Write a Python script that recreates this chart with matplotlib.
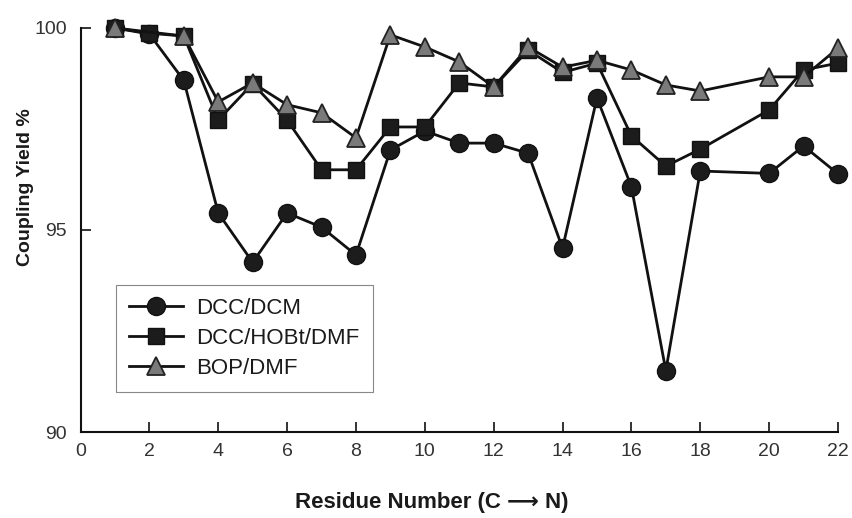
import matplotlib
matplotlib.use("Agg")
import matplotlib.pyplot as plt

plt.rcParams["font.family"] = ["Liberation Sans", "DejaVu Sans"]

# residue positions per series (no data at 19)
x_dcm = [1, 2, 3, 4, 5, 6, 7, 8, 9, 10, 11, 12, 13, 14, 15, 16, 17, 18, 20, 21, 22]
y_dcm = [100.0, 99.85, 98.7, 95.42, 94.2, 95.42, 95.07, 94.38, 96.98, 97.45, 97.15,
         97.15, 96.9, 94.55, 98.27, 96.07, 91.52, 96.46, 96.4, 97.08, 96.39]

x_hobt = [1, 2, 3, 4, 5, 6, 7, 8, 9, 10, 11, 12, 13, 14, 15, 16, 17, 18, 20, 21, 22]
y_hobt = [100.0, 99.87, 99.8, 97.72, 98.62, 97.72, 96.49, 96.49, 97.55, 97.55, 98.64,
          98.54, 99.45, 98.9, 99.13, 97.33, 96.58, 97.0, 97.97, 98.96, 99.13]

x_bop = [1, 3, 4, 5, 6, 7, 8, 9, 10, 11, 12, 13, 14, 15, 16, 17, 18, 20, 21, 22]
y_bop = [100.0, 99.8, 98.17, 98.64, 98.1, 97.9, 97.28, 99.83, 99.53, 99.16, 98.54,
         99.53, 99.03, 99.2, 98.96, 98.59, 98.44, 98.79, 98.79, 99.5]

labels = ["DCC/DCM", "DCC/HOBt/DMF", "BOP/DMF"]

fig = plt.figure(figsize=(8.53, 5.18), dpi=100)
ax = fig.add_axes([0.0944, 0.166, 0.888, 0.780])

ax.plot(x_dcm, y_dcm, color="#111111", lw=2.0, marker="o", ms=13,
        mfc="#1c1c1c", mec="#111111", label=labels[0], clip_on=False, zorder=3)
ax.plot(x_hobt, y_hobt, color="#111111", lw=2.0, marker="s", ms=12,
        mfc="#1c1c1c", mec="#111111", label=labels[1], clip_on=False, zorder=4)
ax.plot(x_bop, y_bop, color="#111111", lw=2.0, marker="^", ms=13,
        mfc="#7a7a7a", mec="#222222", mew=1.3, label=labels[2], clip_on=False, zorder=5)

ax.set_xlim(0, 22)
ax.set_ylim(90, 100)
ax.set_xticks(range(0, 23, 2))
ax.set_yticks([90, 95, 100])

for s in ["top", "right"]:
    ax.spines[s].set_visible(False)
for s in ["left", "bottom"]:
    ax.spines[s].set_linewidth(1.5)
    ax.spines[s].set_color("#111111")

ax.tick_params(axis="both", direction="in", length=7, width=1.2,
               labelsize=14, labelcolor="#333333", color="#111111")
ax.tick_params(axis="y", pad=10)
ax.tick_params(axis="x", pad=8)

ax.set_xlabel("Residue Number (C \u27f6 N)", fontsize=16, fontweight="bold",
              color="#1a1a1a")
ax.xaxis.set_label_coords(0.464, -0.148)
ax.set_ylabel("Coupling Yield %", fontsize=14, fontweight="bold", color="#1a1a1a")
ax.yaxis.set_label_coords(-0.062, 0.606)

leg = ax.legend(loc="upper left", bbox_to_anchor=(0.047, 0.364), borderaxespad=0,
                fontsize=16, handlelength=2.4, labelspacing=0.4,
                handletextpad=0.6, borderpad=0.6, fancybox=False,
                edgecolor="#888888", framealpha=1)
leg.get_frame().set_linewidth(0.8)
for t in leg.get_texts():
    t.set_color("#1a1a1a")

fig.savefig("out.png", dpi=100)
